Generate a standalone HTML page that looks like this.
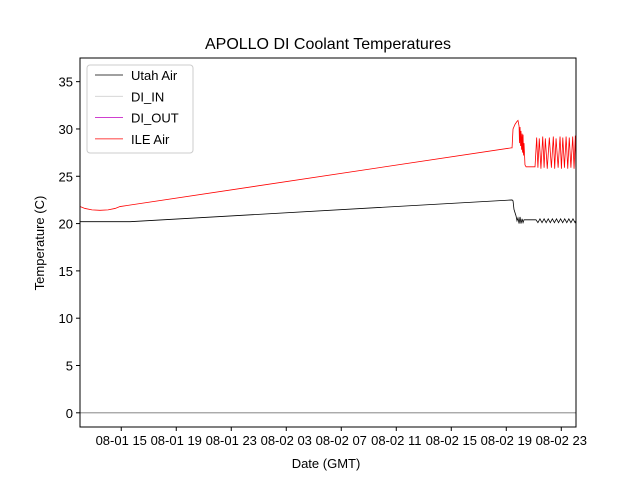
<!DOCTYPE html>
<html><head><meta charset="utf-8"><style>
body{margin:0;background:#fff}
svg{font-family:"Liberation Sans","DejaVu Sans",sans-serif}
</style></head><body>
<svg id="chart" width="640" height="480" viewBox="0 0 640 480">
<rect width="640" height="480" fill="#fff"/>
<text x="328" y="49" font-size="16" text-anchor="middle">APOLLO DI Coolant Temperatures</text>
<text x="326" y="468" font-size="13" text-anchor="middle">Date (GMT)</text>
<text transform="translate(44,243) rotate(-90)" font-size="13" text-anchor="middle">Temperature (C)</text>
<g id="plot"></g>
</svg>
<script>
const xTickHours=[3,7,11,15,19,23,27,31,35];
const xTickLabels=["08-01 15","08-01 19","08-01 23","08-02 03","08-02 07","08-02 11","08-02 15","08-02 19","08-02 23"];
const yTicks=[0,5,10,15,20,25,30,35];
const iceTimes=[0,0.36,0.87,1.45,2.04,2.55,2.91,31.35,31.42,31.49,31.64,31.78,31.85,31.93,31.96,32.0,32.04,32.07,32.11,32.15,32.18,32.22,32.25,32.29,32.36,32.44,33.09,33.21,33.30,33.40,33.52,33.65,33.75,33.84,33.98,34.13,34.28,34.42,34.52,34.62,34.77,34.91,35.01,35.11,35.23,35.35,35.47,35.58,35.70,35.83,35.93,36.02,36.06];
const iceValues=[21.8,21.6,21.45,21.4,21.45,21.6,21.8,28.0,28.0,30.0,30.5,30.8,30.9,30.3,28.5,30.2,28.2,29.8,27.8,29.5,27.5,29.4,27.2,28.5,26.2,26.0,26.0,29.1,25.9,29.0,25.8,29.2,25.9,29.0,25.8,29.1,25.9,29.2,25.8,29.0,25.9,29.2,25.8,29.1,25.9,29.2,25.8,29.1,25.9,29.2,25.8,29.3,26.0];
const utahTimes=[0,3.64,31.42,31.49,31.56,31.71,31.78,31.85,31.93,32.0,32.07,32.15,32.22,32.29,33.16,33.3,33.45,33.6,33.75,33.9,34.05,34.2,34.35,34.5,34.65,34.8,34.95,35.1,35.25,35.4,35.55,35.7,35.85,36.0,36.06];
const utahValues=[20.2,20.2,22.5,22.4,21.5,20.8,20.3,20.6,20.0,20.7,20.0,20.5,20.1,20.4,20.4,20.1,20.5,20.1,20.5,20.1,20.5,20.1,20.5,20.1,20.5,20.1,20.5,20.1,20.5,20.1,20.5,20.1,20.5,20.1,20.3];
const diTimes=[0,36.07];
const diInValues=[0,0];
const diOutValues=[0,0];

const L=80,R=576,T=58,B=427,xMax=36.07,yMin=-1.5,yMax=37.5;
const xS=h=>L+h/xMax*(R-L);
const yS=v=>B-(v-yMin)/(yMax-yMin)*(B-T);
const NS="http://www.w3.org/2000/svg";
const g=document.getElementById('plot');
function mk(tag,attrs,parent){const e=document.createElementNS(NS,tag);for(const k in attrs)e.setAttribute(k,attrs[k]);(parent||g).appendChild(e);return e;}
function line(ts,vs,color,w,name){
  const p=mk('polyline',{points:ts.map((t,i)=>xS(t).toFixed(2)+','+yS(vs[i]).toFixed(2)).join(' '),fill:'none',stroke:color,'stroke-width':w});
  
  
}
line(diTimes,diInValues,'#d0d0d0',0.8,'di-in-line');
line(diTimes,diOutValues,'#808080',0.8,'di-out-line');
line(utahTimes,utahValues,'#000',0.8,'utah-air-line');
line(iceTimes,iceValues,'#ff0000',0.8,'ile-air-line');
const frame=mk('rect',{x:L,y:T,width:R-L,height:B-T,fill:'none',stroke:'#000','stroke-width':1});


xTickHours.forEach((h,i)=>{
  const x=xS(h);
  const t=mk('line',{x1:x,x2:x,y1:B,y2:B+4,stroke:'#000'});
  
  
  const tx=mk('text',{x:x,y:B+18,'font-size':13,'text-anchor':'middle'});
  tx.textContent=xTickLabels[i];
  
  
});
yTicks.forEach(v=>{
  const y=yS(v);
  const t=mk('line',{x1:L-4,x2:L,y1:y,y2:y,stroke:'#000'});
  
  
  const tx=mk('text',{x:L-7,y:y+5,'font-size':13,'text-anchor':'end'});
  tx.textContent=v;
  
  
});
const lg=mk('g',{});


mk('rect',{x:87,y:65,width:106,height:88,rx:3,fill:'#fff',stroke:'#ccc'},lg);
const names=['Utah Air','DI_IN','DI_OUT','ILE Air'];
const cols=['#000','#d0d0d0','#bf00bf','#ff0000'];
names.forEach((n,i)=>{
  const y=75+i*21.3;
  const e=mk('g',{},lg);
  
  
  mk('line',{x1:95,x2:123,y1:y,y2:y,stroke:cols[i],'stroke-width':0.8},e);
  const tx=mk('text',{x:131,y:y+5,'font-size':13},e);
  tx.textContent=n;
});
</script>
</body></html>
